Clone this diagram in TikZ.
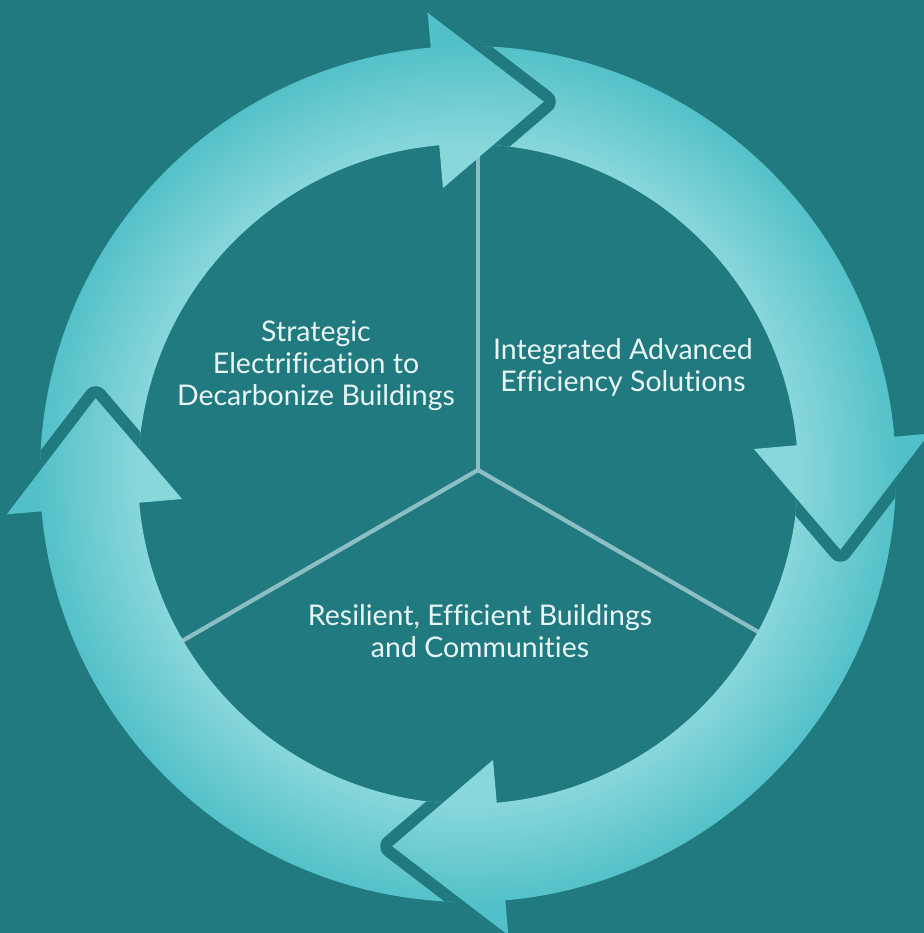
\documentclass[tikz,border=0pt]{standalone}
\usepackage{fontspec}
\setmainfont{Lato}[Ligatures=NoCommon]
\definecolor{bgcol}{RGB}{32,122,128}
\definecolor{ringlight}{RGB}{136,215,219}
\definecolor{ringdark}{RGB}{82,192,200}
\definecolor{linecol}{RGB}{140,190,195}
\definecolor{textcol}{RGB}{232,246,246}
\pgfdeclareradialshading{ringshade}{\pgfpoint{0bp}{0bp}}{%
    color(0bp)=(ringlight); color(17.5bp)=(ringlight);
    color(23bp)=(ringdark); color(50bp)=(ringdark)}
\begin{document}
\begin{tikzpicture}[
        x=0.01cm, y=0.01cm,
        ringfill/.style={shading=ringshade},
        notch/.style={draw=bgcol, line width=6.8pt, line join=round, line cap=round},
        divider/.style={draw=linecol, line width=1.2pt},
        every node/.style={
            text=textcol,
            align=center,
            font=\fontsize{8.1}{9.1}\selectfont}]
    \useasboundingbox (0,0) rectangle (924,933);
    \fill[bgcol] (0,0) rectangle (924,933);

    \coordinate (hub) at (478,463);
    \coordinate (up) at (478,800);
    \coordinate (lowleft) at (170,285);
    \coordinate (lowright) at (786,285);

    \draw[divider] (hub) -- (up);
    \draw[divider] (hub) -- (lowleft);
    \draw[divider] (hub) -- (lowright);

    \begin{scope}[shift={(468,459)}]
        \foreach \b in {95,5,-85,-175} {
            \begin{scope}
                \clip (\b+90:428) arc[start angle=\b+90, end angle=\b-1, radius=428]
                    -- (\b-1:330) arc[start angle=\b-1, end angle=\b+90, radius=330] -- cycle;
                \shade[ringfill] (-470,-470) rectangle (470,470);
            \end{scope}
        }
        \begin{scope}[even odd rule]
            \clip (0,0) circle[radius=428] (0,0) circle[radius=330];
            \foreach \b in {95,5,-85,-175}
                \draw[notch] (\b:463) -- (\b-16.5:380) -- (\b:287);
        \end{scope}
        \foreach \b in {95,5,-85,-175} {
            \begin{scope}
                \clip (\b:463) -- (\b-16.5:380) -- (\b:287) -- cycle;
                \shade[ringfill] (-470,-470) rectangle (470,470);
            \end{scope}
        }
    \end{scope}

    \node (strategy) at (316,567) {Strategic\\Electrification to\\Decarbonize Buildings};
    \node (efficiency) at (623,566) {Integrated Advanced\\Efficiency Solutions};
    \node (resilience) at (480,302) {Resilient, Efficient Buildings\\and Communities};
\end{tikzpicture}
\end{document}
